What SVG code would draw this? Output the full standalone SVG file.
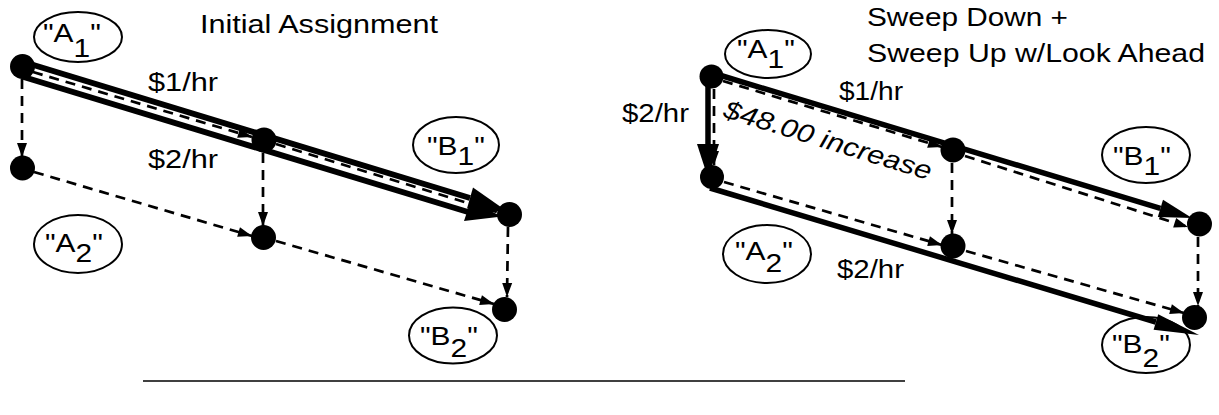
<svg xmlns="http://www.w3.org/2000/svg" width="1219" height="415" viewBox="0 0 1219 415">
  <style>
    text { font-family: "Liberation Sans", Arial, sans-serif; font-size: 26px; fill: #000; }
    .oval { fill: none; stroke: #000; stroke-width: 2; }
    .dot { fill: #000; }
    .dash { fill: none; stroke: #000; stroke-width: 2.7; stroke-dasharray: 10 7; marker-end: url(#tip); }
    .thick { fill: none; stroke: #000; stroke-width: 6; }
    .thin6 { fill: none; stroke: #000; stroke-width: 5.5; }
    .head { fill: #000; }
  </style>
  <defs>
    <marker id="tip" markerUnits="userSpaceOnUse" viewBox="-15 -6 16 12" refX="0" refY="0" markerWidth="16" markerHeight="12" orient="auto">
      <path d="M0,0 L-14,-5 L-14,5 Z" fill="#000"/>
    </marker>
  </defs>

  <!-- titles -->
  <text x="200" y="33" textLength="238" lengthAdjust="spacingAndGlyphs">Initial Assignment</text>
  <text x="867" y="26" textLength="201" lengthAdjust="spacingAndGlyphs">Sweep Down +</text>
  <text x="867" y="62" textLength="338" lengthAdjust="spacingAndGlyphs">Sweep Up w/Look Ahead</text>

  <!-- connectors -->
  <g id="connectors">
    <!-- left: sweep paths (dashed) -->
    <line class="dash" x1="22" y1="79" x2="22" y2="157"/>
    <line class="dash" x1="33" y1="72" x2="252" y2="137"/>
    <line class="dash" x1="276" y1="144" x2="497" y2="212"/>
    <line class="dash" x1="263" y1="153" x2="263" y2="226"/>
    <line class="dash" x1="34" y1="172" x2="252" y2="236"/>
    <line class="dash" x1="276" y1="241" x2="494" y2="304"/>
    <line class="dash" x1="508" y1="227" x2="507" y2="297"/>

    <!-- left: assigned flow (double thick) -->
    <line class="thick" x1="22" y1="61.5" x2="470" y2="198"/>
    <polygon class="head" points="473,187.5 508,212 467,208.5"/>
    <line class="thick" x1="22" y1="76.5" x2="468" y2="212"/>
    <polygon class="head" points="470.5,201.5 502,216.5 464,221"/>

    <!-- right: sweep paths (dashed) -->
    <line class="dash" x1="714" y1="89" x2="714" y2="165"/>
    <line class="dash" x1="723" y1="81" x2="942" y2="147"/>
    <line class="dash" x1="965" y1="156" x2="1188" y2="227"/>
    <line class="dash" x1="952" y1="163" x2="952" y2="234"/>
    <line class="dash" x1="724" y1="182" x2="942" y2="245"/>
    <line class="dash" x1="966" y1="251" x2="1184" y2="313"/>
    <line class="dash" x1="1198" y1="237" x2="1198" y2="306"/>

    <!-- right: assigned flow (thick) -->
    <line class="thin6" x1="708" y1="86" x2="708" y2="150"/>
    <polygon class="head" points="697,144 719,144 708,178"/>
    <line class="thin6" x1="716" y1="74" x2="1160.4" y2="208.4"/>
    <polygon class="head" points="1163,199.8 1192,218 1157.8,217"/>
    <line class="thin6" x1="710" y1="188" x2="1155.9" y2="322"/>
    <polygon class="head" points="1158.2,314.3 1199,335 1153.6,329.7"/>
  </g>

  <!-- edge labels -->
  <text x="148" y="91" textLength="70" lengthAdjust="spacingAndGlyphs">$1/hr</text>
  <text x="148" y="168" textLength="70" lengthAdjust="spacingAndGlyphs">$2/hr</text>
  <text x="622" y="122" textLength="67" lengthAdjust="spacingAndGlyphs">$2/hr</text>
  <text x="839" y="100" textLength="64" lengthAdjust="spacingAndGlyphs">$1/hr</text>
  <text x="837" y="278" textLength="67" lengthAdjust="spacingAndGlyphs">$2/hr</text>
  <text x="722" y="117" transform="rotate(17 722 117)" font-style="italic" font-size="27" textLength="216" lengthAdjust="spacingAndGlyphs">$48.00 increase</text>

  <!-- left nodes -->
  <g id="L-A1">
    <circle class="dot" cx="22.5" cy="66.5" r="12.5"/>
    <ellipse class="oval" cx="78" cy="37" rx="44" ry="25"/>
    <text transform="translate(43 42) scale(1.15 1)">"A<tspan dy="15">1</tspan><tspan dy="-15">"</tspan></text>
  </g>
  <g id="L-A2">
    <circle class="dot" cx="22.5" cy="168" r="12.5"/>
    <ellipse class="oval" cx="78" cy="244" rx="44" ry="29"/>
    <text transform="translate(45 252) scale(1.15 1)">"A<tspan dy="10">2</tspan><tspan dy="-10">"</tspan></text>
  </g>
  <g id="L-M1">
    <circle class="dot" cx="264" cy="140" r="12.5"/>
  </g>
  <g id="L-M2">
    <circle class="dot" cx="263.5" cy="237.5" r="12.5"/>
  </g>
  <g id="L-B1">
    <circle class="dot" cx="509.5" cy="214.5" r="12.5"/>
    <ellipse class="oval" cx="456" cy="145" rx="43" ry="28"/>
    <text transform="translate(427 155) scale(1.15 1)">"B<tspan dy="10">1</tspan><tspan dy="-10">"</tspan></text>
  </g>
  <g id="L-B2">
    <circle class="dot" cx="504.5" cy="309.5" r="12.5"/>
    <ellipse class="oval" cx="453" cy="335.5" rx="44" ry="28"/>
    <text transform="translate(420 345) scale(1.15 1)">"B<tspan dy="12">2</tspan><tspan dy="-12">"</tspan></text>
  </g>

  <!-- right nodes -->
  <g id="R-A1">
    <circle class="dot" cx="711.5" cy="76.5" r="12"/>
    <ellipse class="oval" cx="768" cy="54" rx="43" ry="24"/>
    <text transform="translate(737 58) scale(1.15 1)">"A<tspan dy="10">1</tspan><tspan dy="-10">"</tspan></text>
  </g>
  <g id="R-A2">
    <circle class="dot" cx="712" cy="177" r="12"/>
    <ellipse class="oval" cx="767" cy="254" rx="44" ry="29"/>
    <text transform="translate(735 260) scale(1.15 1)">"A<tspan dy="12">2</tspan><tspan dy="-12">"</tspan></text>
  </g>
  <g id="R-M1">
    <circle class="dot" cx="953" cy="150" r="12.5"/>
  </g>
  <g id="R-M2">
    <circle class="dot" cx="953" cy="246" r="12.5"/>
  </g>
  <g id="R-B1">
    <circle class="dot" cx="1199.5" cy="224" r="12.5"/>
    <ellipse class="oval" cx="1146" cy="155" rx="44" ry="28"/>
    <text transform="translate(1113 165) scale(1.15 1)">"B<tspan dy="10">1</tspan><tspan dy="-10">"</tspan></text>
  </g>
  <g id="R-B2">
    <circle class="dot" cx="1194.5" cy="317.5" r="12.5"/>
    <ellipse class="oval" cx="1146" cy="345" rx="44" ry="28"/>
    <text transform="translate(1112 353) scale(1.15 1)">"B<tspan dy="14">2</tspan><tspan dy="-14">"</tspan></text>
  </g>

  <!-- rule under both panels -->
  <line x1="143" y1="381" x2="905" y2="381" stroke="#000" stroke-width="1.5"/>
</svg>
